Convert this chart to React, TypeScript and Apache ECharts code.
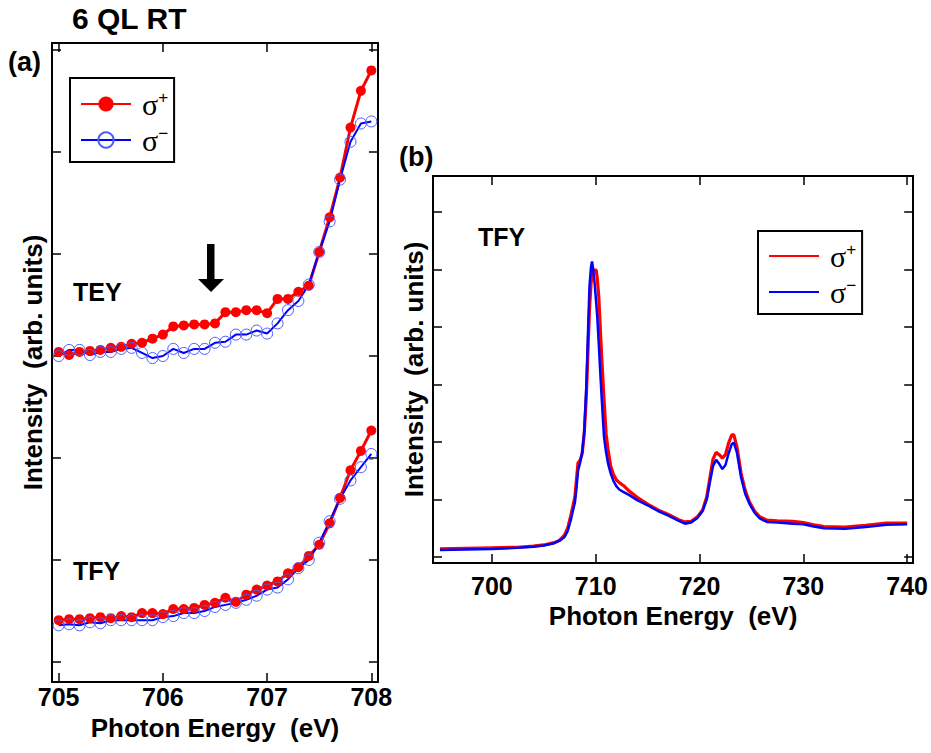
import React, { useEffect, useRef } from "react";
import * as echarts from "echarts";

// ---------- Panel (a): 6 QL RT, 705–708 eV ----------
const energyA = [
  705.0, 705.1, 705.2, 705.3, 705.4, 705.5, 705.6, 705.7, 705.8, 705.9,
  706.0, 706.1, 706.2, 706.3, 706.4, 706.5, 706.6, 706.7, 706.8, 706.9,
  707.0, 707.1, 707.2, 707.3, 707.4, 707.5, 707.6, 707.7, 707.8, 707.9, 708.0,
];
const teyPlus = [
  3.04, 3.01, 3.04, 3.05, 3.06, 3.08, 3.09, 3.12, 3.13, 3.17,
  3.21, 3.29, 3.30, 3.31, 3.31, 3.32, 3.43, 3.43, 3.45, 3.45,
  3.42, 3.56, 3.56, 3.63, 3.69, 4.02, 4.36, 4.75, 5.24, 5.60, 5.80,
];
const teyMinus = [
  3.00, 3.06, 3.06, 3.01, 3.04, 3.04, 3.07, 3.08, 3.03, 2.98,
  3.00, 3.07, 3.03, 3.07, 3.07, 3.13, 3.14, 3.21, 3.21, 3.25,
  3.22, 3.32, 3.45, 3.54, 3.70, 4.02, 4.32, 4.73, 5.10, 5.28, 5.30,
];
const tfyPlus = [
  0.41, 0.42, 0.42, 0.43, 0.44, 0.43, 0.45, 0.44, 0.48, 0.48,
  0.47, 0.52, 0.52, 0.53, 0.56, 0.58, 0.63, 0.59, 0.66, 0.71,
  0.75, 0.79, 0.87, 0.93, 1.04, 1.15, 1.36, 1.61, 1.88, 2.07, 2.27,
];
const tfyMinus = [
  0.36, 0.37, 0.36, 0.39, 0.38, 0.41, 0.41, 0.41, 0.41, 0.41,
  0.44, 0.45, 0.48, 0.48, 0.50, 0.54, 0.56, 0.58, 0.61, 0.65,
  0.71, 0.73, 0.81, 0.92, 1.00, 1.17, 1.38, 1.60, 1.78, 1.91, 2.04,
];
const ticksAX = [705, 706, 707, 708];
const ticksAY = [0, 1, 2, 3, 4, 5, 6];

// ---------- Panel (b): TFY, wide range ----------
const energyB = [
  695.0, 697.5, 700.0, 702.5, 704.0, 705.0, 706.0, 706.5, 707.0, 707.3,
  707.6, 707.8, 708.0, 708.15, 708.3, 708.5, 708.7, 708.9, 709.1, 709.25,
  709.4, 709.55, 709.65, 709.75, 709.9, 710.05, 710.15, 710.3, 710.45, 710.6,
  710.8, 711.0, 711.2, 711.45, 711.7, 712.0, 712.3, 712.7, 713.2, 714.0,
  715.0, 716.0, 717.0, 718.0, 718.6, 719.2, 719.8, 720.3, 720.7, 721.0,
  721.3, 721.6, 721.9, 722.2, 722.5, 722.8, 723.1, 723.3, 723.6, 724.0,
  724.4, 724.8, 725.3, 725.8, 726.5, 727.5, 729.0, 730.0, 731.0, 732.0,
  734.0, 736.0, 738.0, 740.0,
];
const tfyBPlus = [
  0.14, 0.15, 0.16, 0.17, 0.19, 0.21, 0.25, 0.29, 0.38, 0.50,
  0.72, 0.88, 1.05, 1.35, 1.64, 1.68, 1.80, 2.15, 2.80, 3.55,
  4.30, 4.75, 4.90, 4.97, 4.99, 4.99, 4.85, 4.52, 3.95, 3.40,
  2.75, 2.15, 1.85, 1.58, 1.44, 1.34, 1.29, 1.24, 1.15, 1.04,
  0.92, 0.82, 0.74, 0.65, 0.61, 0.62, 0.70, 0.82, 1.05, 1.38,
  1.70, 1.82, 1.78, 1.72, 1.78, 1.98, 2.12, 2.13, 1.92, 1.46,
  1.16, 0.96, 0.80, 0.70, 0.64, 0.63, 0.62, 0.60, 0.56, 0.53,
  0.52, 0.55, 0.59, 0.59,
];
const tfyBMinus = [
  0.12, 0.13, 0.14, 0.16, 0.18, 0.20, 0.24, 0.28, 0.35, 0.45,
  0.64, 0.80, 0.95, 1.20, 1.50, 1.64, 1.82, 2.20, 2.98, 3.85,
  4.70, 5.05, 5.14, 5.02, 4.76, 4.42, 4.18, 3.70, 3.18, 2.70,
  2.09, 1.82, 1.62, 1.45, 1.33, 1.23, 1.17, 1.13, 1.08, 0.99,
  0.90, 0.80, 0.72, 0.63, 0.58, 0.60, 0.68, 0.80, 1.00, 1.30,
  1.58, 1.69, 1.62, 1.53, 1.60, 1.80, 1.96, 1.99, 1.82, 1.39,
  1.10, 0.93, 0.77, 0.67, 0.61, 0.60, 0.58, 0.57, 0.53, 0.50,
  0.49, 0.52, 0.56, 0.57,
];
const ticksBX = [700, 710, 720, 730, 740];
const ticksBY = [0, 1, 2, 3, 4, 5, 6];

const RED = "#ff0000";
const BLUE = "#0000ff";
const SANS = '"Liberation Sans", Arial, Helvetica, sans-serif';
const SERIF = '"Liberation Serif", "DejaVu Serif", serif';

const zip = (xs: number[], ys: number[]) => xs.map((x, i) => [x, ys[i]]);

function frameAxis(
  gridIndex: number,
  position: string,
  min: number,
  max: number,
  ticks: number[],
  labels: boolean,
  labelMargin: number,
  name: string,
  nameGap: number
): any {
  return {
    type: "value",
    gridIndex,
    position,
    min,
    max,
    splitLine: { show: false },
    axisLine: { show: true, onZero: false, lineStyle: { color: "#000", width: 2 } },
    axisTick: {
      show: true,
      inside: true,
      length: 9,
      customValues: ticks,
      lineStyle: { color: "#000", width: 1.5 },
    },
    axisLabel: {
      show: labels,
      customValues: ticks,
      margin: labelMargin,
      color: "#000",
      fontSize: 25,
      fontWeight: "bold",
      fontFamily: SANS,
    },
    name: name,
    nameLocation: "middle",
    nameGap,
    nameTextStyle: {
      color: "#000",
      fontSize: 26,
      fontWeight: "bold",
      fontFamily: SANS,
    },
  };
}

const legendRich = {
  s: { fontSize: 30, lineHeight: 30, fontFamily: SERIF, color: "#000", padding: [0, 0, 0, 6] },
  p: { fontSize: 17, lineHeight: 14, fontFamily: SANS, color: "#000", verticalAlign: "top" },
};
const legendFormatter = (name: string) =>
  name.indexOf("+") >= 0 ? "{s|σ}{p|+}" : "{s|σ}{p|−}";

export default function App() {
  const ref = useRef<HTMLDivElement>(null);

  useEffect(() => {
    if (!ref.current) return;
    const chart = echarts.init(ref.current, undefined, { renderer: "svg" });

    const option: any = {
      animation: false,
      backgroundColor: "#fff",
      grid: [
        { left: 52, top: 43, width: 326, height: 639, containLabel: false },
        { left: 433, top: 176, width: 481, height: 387, containLabel: false },
      ],
      xAxis: [
        frameAxis(0, "bottom", 704.936, 708.064, ticksAX, true, 2, "Photon Energy  (eV)", 33),
        frameAxis(0, "top", 704.936, 708.064, ticksAX, false, 0, "", 0),
        frameAxis(1, "bottom", 694.33, 740.58, ticksBX, true, 10, "Photon Energy  (eV)", 40),
        frameAxis(1, "top", 694.33, 740.58, ticksBX, false, 0, "", 0),
      ],
      yAxis: [
        frameAxis(0, "left", -0.196, 6.069, ticksAY, false, 0, "Intensity  (arb. units)", 6),
        frameAxis(0, "right", -0.196, 6.069, ticksAY, false, 0, "", 0),
        frameAxis(1, "left", -0.104, 6.626, ticksBY, false, 0, "Intensity  (arb. units)", 6),
        frameAxis(1, "right", -0.104, 6.626, ticksBY, false, 0, "", 0),
      ],
      legend: [
        {
          data: ["σ+", "σ−"],
          orient: "vertical",
          left: 70,
          top: 78,
          itemWidth: 50,
          itemHeight: 19,
          itemGap: 6,
          padding: [11, 6, 7, 10],
          borderColor: "#000",
          borderWidth: 2,
          backgroundColor: "#fff",
          formatter: legendFormatter,
          textStyle: { rich: legendRich },
          selectedMode: false,
        },
        {
          data: ["σ+ (b)", "σ− (b)"],
          orient: "vertical",
          left: 758,
          top: 231,
          itemWidth: 50,
          itemHeight: 19,
          itemGap: 6,
          padding: [10, 6, 7, 10],
          borderColor: "#000",
          borderWidth: 2,
          backgroundColor: "#fff",
          formatter: legendFormatter,
          textStyle: { rich: legendRich },
          itemStyle: { color: "transparent", borderWidth: 0, opacity: 0 },
          selectedMode: false,
        },
      ],
      series: [
        {
          name: "σ+",
          type: "line",
          xAxisIndex: 0,
          yAxisIndex: 0,
          data: zip(energyA, teyPlus),
          symbol: "circle",
          symbolSize: 10,
          itemStyle: { color: RED },
          lineStyle: { color: RED, width: 3 },
        },
        {
          name: "σ+",
          type: "line",
          xAxisIndex: 0,
          yAxisIndex: 0,
          data: zip(energyA, tfyPlus),
          symbol: "circle",
          symbolSize: 10,
          itemStyle: { color: RED },
          lineStyle: { color: RED, width: 3 },
        },
        {
          name: "σ−",
          type: "line",
          xAxisIndex: 0,
          yAxisIndex: 0,
          data: zip(energyA, teyMinus),
          symbol: "circle",
          symbolSize: 11,
          itemStyle: { color: "rgba(0,0,0,0)", borderColor: "#4a5cff", borderWidth: 1 },
          lineStyle: { color: BLUE, width: 2 },
        },
        {
          name: "σ−",
          type: "line",
          xAxisIndex: 0,
          yAxisIndex: 0,
          data: zip(energyA, tfyMinus),
          symbol: "circle",
          symbolSize: 11,
          itemStyle: { color: "rgba(0,0,0,0)", borderColor: "#4a5cff", borderWidth: 1 },
          lineStyle: { color: BLUE, width: 2 },
        },
        {
          name: "σ+ (b)",
          type: "line",
          xAxisIndex: 2,
          yAxisIndex: 2,
          data: zip(energyB, tfyBPlus),
          symbol: "none",
          itemStyle: { color: RED },
          lineStyle: { color: RED, width: 3.2 },
        },
        {
          name: "σ− (b)",
          type: "line",
          xAxisIndex: 2,
          yAxisIndex: 2,
          data: zip(energyB, tfyBMinus),
          symbol: "none",
          itemStyle: { color: BLUE },
          lineStyle: { color: BLUE, width: 2.5 },
        },
      ],
      graphic: [
        {
          type: "text",
          left: 72,
          top: 3,
          style: { text: "6 QL RT", fontSize: 30, fontWeight: "bold", fontFamily: SANS, fill: "#000" },
        },
        {
          type: "text",
          left: 8,
          top: 48,
          style: { text: "(a)", fontSize: 27, fontWeight: "bold", fontFamily: SANS, fill: "#000" },
        },
        {
          type: "text",
          left: 399,
          top: 143,
          style: { text: "(b)", fontSize: 27, fontWeight: "bold", fontFamily: SANS, fill: "#000" },
        },
        {
          type: "text",
          left: 73,
          top: 279,
          style: { text: "TEY", fontSize: 25, fontWeight: "bold", fontFamily: SANS, fill: "#000" },
        },
        {
          type: "text",
          left: 73,
          top: 558,
          style: { text: "TFY", fontSize: 25, fontWeight: "bold", fontFamily: SANS, fill: "#000" },
        },
        {
          type: "text",
          left: 478,
          top: 224,
          style: { text: "TFY", fontSize: 25, fontWeight: "bold", fontFamily: SANS, fill: "#000" },
        },
        {
          type: "rect",
          shape: { x: 207, y: 244, width: 7.5, height: 37 },
          style: { fill: "#000" },
        },
        {
          type: "polygon",
          shape: { points: [[198, 279], [224, 279], [211, 292]] },
          style: { fill: "#000" },
        },
      ],
    };

    chart.setOption(option);
    return () => chart.dispose();
  }, []);

  return (
    <div
      ref={ref}
      style={{ position: "fixed", left: 0, top: 0, width: 931, height: 753, background: "#fff" }}
    />
  );
}
